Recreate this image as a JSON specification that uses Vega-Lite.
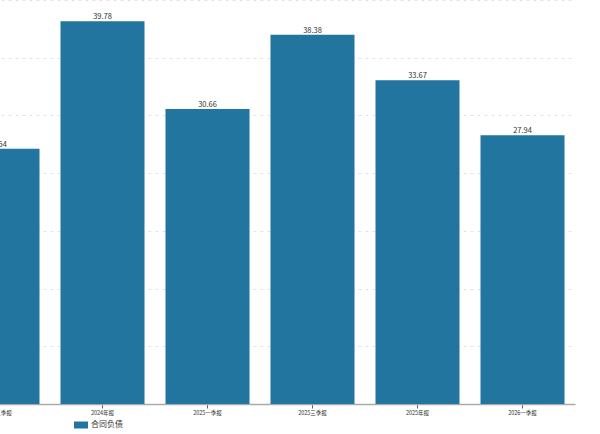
{
  "$schema": "https://vega.github.io/schema/vega-lite/v6.json",
  "width": 630,
  "height": 404,
  "autosize": {"type": "none"},
  "padding": {"left": -55, "top": 0, "right": 25, "bottom": 30},
  "background": "white",
  "config": {
    "view": {"stroke": null},
    "font": "Noto Sans CJK SC"
  },
  "data": {
    "values": [
      {"period": "2024三季报", "value": 26.54, "series": "合同负债"},
      {"period": "2024年报", "value": 39.78, "series": "合同负债"},
      {"period": "2025一季报", "value": 30.66, "series": "合同负债"},
      {"period": "2025三季报", "value": 38.38, "series": "合同负债"},
      {"period": "2025年报", "value": 33.67, "series": "合同负债"},
      {"period": "2026一季报", "value": 27.94, "series": "合同负债"}
    ]
  },
  "encoding": {
    "x": {
      "field": "period",
      "type": "nominal",
      "sort": null,
      "scale": {"paddingInner": 0.2, "paddingOuter": 0.1},
      "axis": {
        "title": null,
        "labelAngle": 0,
        "labelFontSize": 5.5,
        "labelColor": "#333",
        "labelPadding": 2,
        "domainColor": "#aaa",
        "domainWidth": 1.5,
        "tickColor": "#666",
        "tickSize": 4,
        "grid": false
      }
    },
    "y": {
      "field": "value",
      "type": "quantitative",
      "scale": {"domain": [0, 42], "nice": false},
      "axis": {
        "title": null,
        "labels": false,
        "ticks": false,
        "domain": false,
        "values": [0, 6, 12, 18, 24, 30, 36, 42],
        "grid": true,
        "gridColor": "#e3e3e3",
        "gridDash": [3, 4],
        "gridWidth": 1
      }
    }
  },
  "layer": [
    {
      "mark": {"type": "bar", "color": "#21759f"},
      "encoding": {
        "color": {
          "field": "series",
          "type": "nominal",
          "scale": {"range": ["#21759f"]},
          "legend": {
            "title": null,
            "orient": "none",
            "legendX": 129,
            "legendY": 418,
            "symbolType": "M-1,-0.5L1,-0.5L1,0.5L-1,0.5Z",
            "symbolSize": 196,
            "symbolStrokeWidth": 0,
            "labelFontSize": 8,
            "labelColor": "#333",
            "labelOffset": 3
          }
        }
      }
    },
    {
      "mark": {"type": "text", "dy": -4, "fontSize": 7.5, "color": "#333"},
      "encoding": {
        "text": {"field": "value", "type": "quantitative", "format": ".2f"}
      }
    }
  ]
}
